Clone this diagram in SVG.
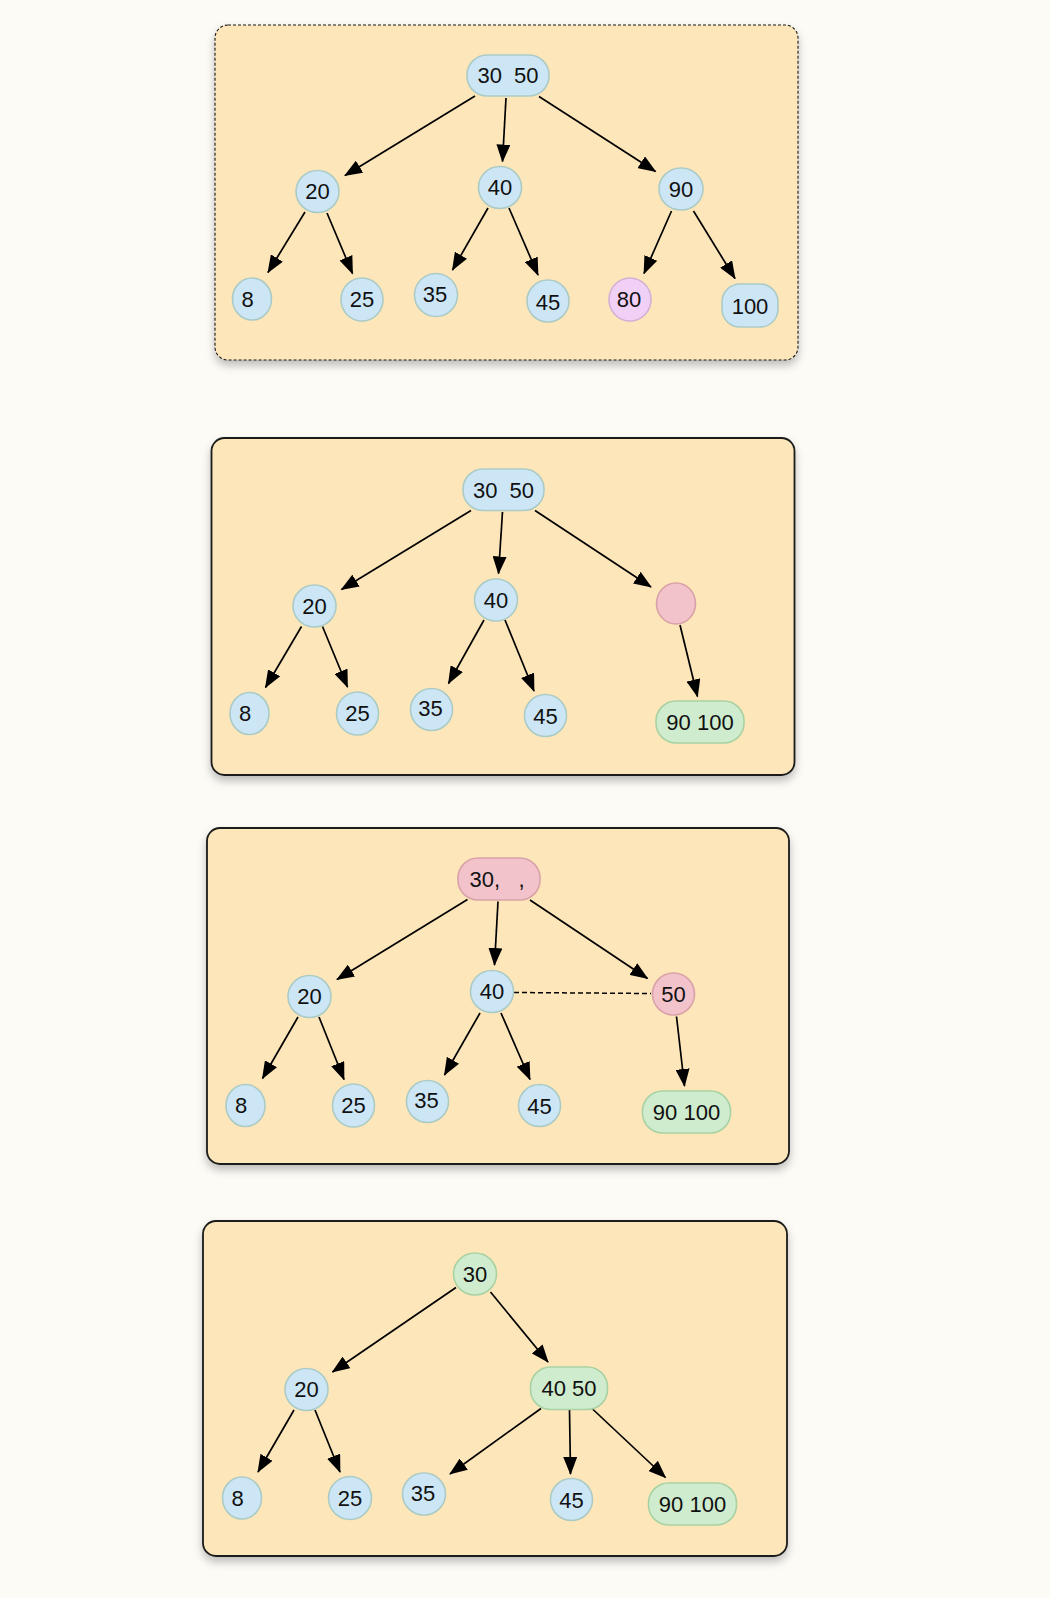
<svg xmlns="http://www.w3.org/2000/svg" width="1050" height="1598" viewBox="0 0 1050 1598">
<defs>
<filter id="sh" x="-5%" y="-5%" width="110%" height="115%">
<feDropShadow dx="0" dy="5" stdDeviation="4" flood-color="#000" flood-opacity="0.25"/>
</filter>
<marker id="ar" viewBox="0 0 18 14" refX="17" refY="7" markerWidth="18" markerHeight="14" markerUnits="userSpaceOnUse" orient="auto">
<path d="M0,0 L18,7 L0,14 z" fill="#000"/>
</marker>
</defs>
<style>
.panel{fill:#fde6b9;stroke:#1a1a1a;stroke-width:1.8;filter:url(#sh)}
.dash{stroke-dasharray:3 2;stroke-width:1.1}
.b{fill:#cde6f6;stroke:#abcbc6;stroke-width:1.6}
.p{fill:#f2c3cb;stroke:#d8a2a8;stroke-width:1.6}
.l{fill:#f0d0f4;stroke:#d2b1d6;stroke-width:1.6}
.g{fill:#cfecce;stroke:#a8d2a3;stroke-width:1.6}
text{font-family:"Liberation Sans",Arial,sans-serif;font-size:22px;fill:#111;text-anchor:middle;dominant-baseline:central}
.e line{stroke:#000;stroke-width:1.7;marker-end:url(#ar)}
.e line.dl{stroke-dasharray:5 3;marker-end:none;stroke-width:1.5}
</style>
<rect width="1050" height="1598" fill="#fdfbf6"/>

<!-- Panels -->
<g id="panel1"><rect class="panel dash" x="215" y="25" width="583" height="335" rx="13"/></g>
<g id="panel2"><rect class="panel" x="211.5" y="438" width="583" height="337" rx="13"/></g>
<g id="panel3"><rect class="panel" x="207" y="828" width="582" height="336" rx="13"/></g>
<g id="panel4"><rect class="panel" x="203" y="1221" width="584" height="335" rx="13"/></g>

<!-- Connectors -->
<g id="connectors" class="e">
<!-- panel 1 -->
<line x1="475" y1="96" x2="345" y2="175.5"/>
<line x1="506" y1="98" x2="502.5" y2="161.5"/>
<line x1="539" y1="96.5" x2="655.5" y2="171.5"/>
<line x1="305" y1="212" x2="268" y2="272.5"/>
<line x1="327" y1="213" x2="352.5" y2="273.5"/>
<line x1="488" y1="208" x2="452.5" y2="270"/>
<line x1="509" y1="208" x2="538" y2="275"/>
<line x1="671.5" y1="211" x2="644" y2="273.5"/>
<line x1="693.5" y1="211" x2="735" y2="278.5"/>
<!-- panel 2 -->
<line x1="471" y1="510.5" x2="341.5" y2="589.5"/>
<line x1="502.5" y1="512" x2="498.5" y2="573.5"/>
<line x1="535" y1="510.5" x2="651" y2="587"/>
<line x1="301.5" y1="626.5" x2="265.5" y2="687.5"/>
<line x1="322.5" y1="626.5" x2="347.5" y2="687"/>
<line x1="484" y1="620" x2="448.5" y2="683.5"/>
<line x1="505" y1="620" x2="534" y2="691"/>
<line x1="680" y1="625" x2="697.5" y2="696.5"/>
<!-- panel 3 -->
<line x1="467.5" y1="899.5" x2="337" y2="979.5"/>
<line x1="498" y1="901.5" x2="494.5" y2="965"/>
<line x1="530" y1="900" x2="647.5" y2="978.5"/>
<line x1="298" y1="1017" x2="262.5" y2="1078.5"/>
<line x1="319" y1="1017" x2="344" y2="1079.5"/>
<line x1="480" y1="1013" x2="444.5" y2="1075"/>
<line x1="501" y1="1013" x2="530" y2="1079.5"/>
<line x1="676.5" y1="1016.5" x2="684.5" y2="1086"/>
<line class="dl" x1="514" y1="992.5" x2="651" y2="993.5"/>
<!-- panel 4 -->
<line x1="456" y1="1287.5" x2="332.5" y2="1372"/>
<line x1="490.5" y1="1292" x2="548" y2="1362"/>
<line x1="294" y1="1410" x2="258" y2="1472"/>
<line x1="315" y1="1410" x2="340" y2="1472"/>
<line x1="541" y1="1408.5" x2="450" y2="1474"/>
<line x1="569.5" y1="1410" x2="570.5" y2="1474"/>
<line x1="592" y1="1408.5" x2="665.5" y2="1477.5"/>
</g>

<!-- Panel 1 nodes -->
<g id="p1-root"><rect class="b" x="467" y="55" width="82" height="41" rx="20"/><text x="508" y="75.5" style="white-space:pre">30  50</text></g>
<g id="p1-20"><ellipse class="b" cx="317.5" cy="191.5" rx="21.5" ry="21"/><text x="317.5" y="191.5">20</text></g>
<g id="p1-40"><ellipse class="b" cx="500" cy="187.5" rx="21.5" ry="21"/><text x="500" y="187.5">40</text></g>
<g id="p1-90"><ellipse class="b" cx="681" cy="189" rx="22" ry="21"/><text x="681" y="189">90</text></g>
<g id="p1-8"><ellipse class="b" cx="252" cy="299" rx="19.5" ry="21"/><text x="247.5" y="299">8</text></g>
<g id="p1-25"><ellipse class="b" cx="362" cy="299.5" rx="21" ry="21.5"/><text x="362" y="299.5">25</text></g>
<g id="p1-35"><ellipse class="b" cx="436" cy="295" rx="21.5" ry="21.5"/><text x="435" y="294">35</text></g>
<g id="p1-45"><ellipse class="b" cx="548" cy="301" rx="21" ry="21"/><text x="548" y="302">45</text></g>
<g id="p1-80"><ellipse class="l" cx="630" cy="299.5" rx="21" ry="21.5"/><text x="629" y="299.5">80</text></g>
<g id="p1-100"><rect class="b" x="722" y="284" width="56" height="43" rx="18"/><text x="750" y="306">100</text></g>

<!-- Panel 2 nodes -->
<g id="p2-root"><rect class="b" x="463" y="469" width="81" height="41.5" rx="20"/><text x="503.5" y="490" style="white-space:pre">30  50</text></g>
<g id="p2-20"><ellipse class="b" cx="314.5" cy="606" rx="21.5" ry="21"/><text x="314.5" y="606">20</text></g>
<g id="p2-40"><ellipse class="b" cx="496" cy="600" rx="21.5" ry="21"/><text x="496" y="600">40</text></g>
<g id="p2-empty"><ellipse class="p" cx="676" cy="603.5" rx="19.5" ry="20.5"/></g>
<g id="p2-8"><ellipse class="b" cx="249.5" cy="713.5" rx="19.5" ry="21"/><text x="245" y="713.5">8</text></g>
<g id="p2-25"><ellipse class="b" cx="357.5" cy="713.5" rx="21" ry="21.5"/><text x="357.5" y="713.5">25</text></g>
<g id="p2-35"><ellipse class="b" cx="431.5" cy="709.5" rx="21" ry="21"/><text x="430.5" y="708.5">35</text></g>
<g id="p2-45"><ellipse class="b" cx="545.5" cy="715.5" rx="21" ry="21"/><text x="545.5" y="716.5">45</text></g>
<g id="p2-90100"><rect class="g" x="656" y="701" width="88" height="42" rx="20"/><text x="700" y="722">90 100</text></g>

<!-- Panel 3 nodes -->
<g id="p3-root"><rect class="p" x="458" y="858" width="82" height="42" rx="20"/><text x="497" y="879" style="white-space:pre">30,   ,</text></g>
<g id="p3-20"><ellipse class="b" cx="309.5" cy="996.5" rx="21.5" ry="21"/><text x="309.5" y="996.5">20</text></g>
<g id="p3-40"><ellipse class="b" cx="492" cy="991.5" rx="21.5" ry="21"/><text x="492" y="991.5">40</text></g>
<g id="p3-50"><ellipse class="p" cx="673.5" cy="994" rx="21" ry="21"/><text x="673.5" y="994">50</text></g>
<g id="p3-8"><ellipse class="b" cx="245.5" cy="1105.5" rx="19.5" ry="21"/><text x="241" y="1105.5">8</text></g>
<g id="p3-25"><ellipse class="b" cx="353.5" cy="1105.5" rx="21" ry="21.5"/><text x="353.5" y="1105.5">25</text></g>
<g id="p3-35"><ellipse class="b" cx="427.5" cy="1101.5" rx="21" ry="21"/><text x="426.5" y="1100.5">35</text></g>
<g id="p3-45"><ellipse class="b" cx="539.5" cy="1105.5" rx="21" ry="21"/><text x="539.5" y="1106.5">45</text></g>
<g id="p3-90100"><rect class="g" x="642.5" y="1091" width="88" height="42" rx="20"/><text x="686.5" y="1112">90 100</text></g>

<!-- Panel 4 nodes -->
<g id="p4-30"><ellipse class="g" cx="475" cy="1274" rx="21.5" ry="21"/><text x="475" y="1274">30</text></g>
<g id="p4-20"><ellipse class="b" cx="306.5" cy="1389.5" rx="21.5" ry="21"/><text x="306.5" y="1389.5">20</text></g>
<g id="p4-4050"><rect class="g" x="530.5" y="1367" width="77" height="42.5" rx="20"/><text x="569" y="1388">40 50</text></g>
<g id="p4-8"><ellipse class="b" cx="242" cy="1498" rx="19.5" ry="21"/><text x="237.5" y="1498">8</text></g>
<g id="p4-25"><ellipse class="b" cx="350" cy="1498" rx="21.5" ry="21.5"/><text x="350" y="1498">25</text></g>
<g id="p4-35"><ellipse class="b" cx="424" cy="1494" rx="21.5" ry="21"/><text x="423" y="1493">35</text></g>
<g id="p4-45"><ellipse class="b" cx="571.5" cy="1499.5" rx="21" ry="21"/><text x="571.5" y="1500.5">45</text></g>
<g id="p4-90100"><rect class="g" x="648.5" y="1483" width="88" height="42" rx="20"/><text x="692.5" y="1504">90 100</text></g>
</svg>
